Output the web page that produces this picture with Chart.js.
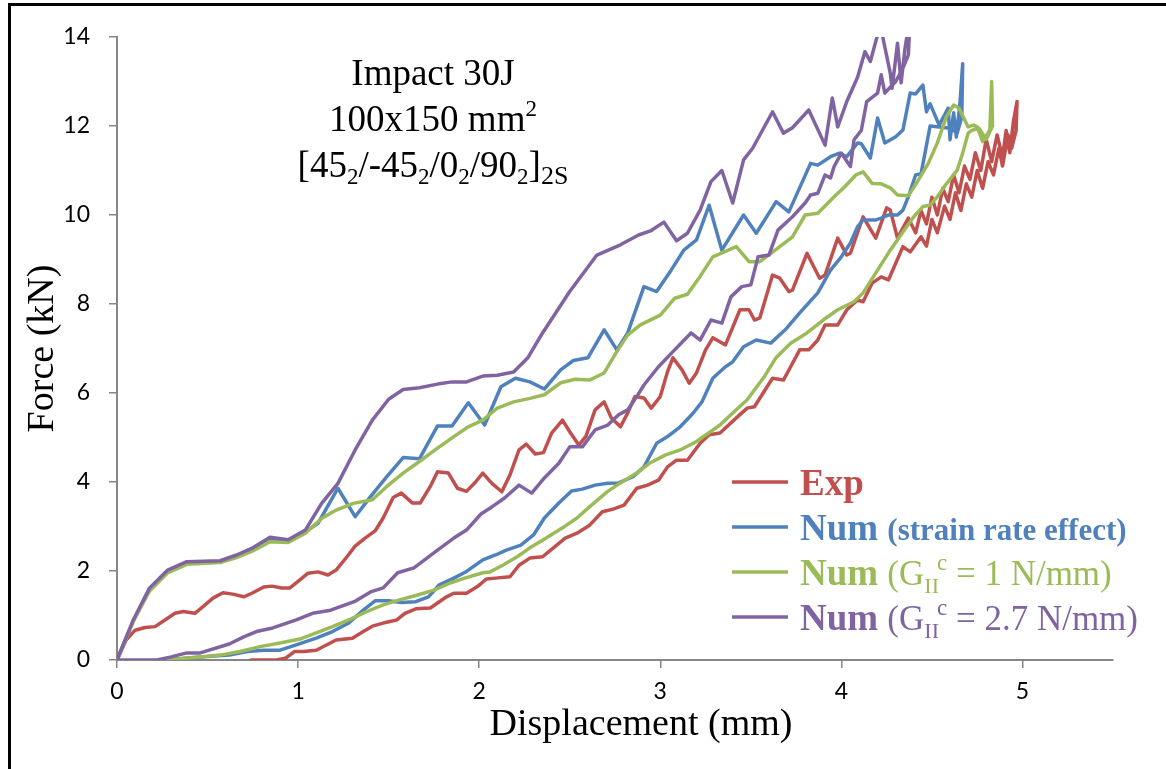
<!DOCTYPE html>
<html>
<head>
<meta charset="utf-8">
<script src="https://cdn.jsdelivr.net/npm/chart.js@4.4.0/dist/chart.umd.min.js"></script>
<style>
  html, body { margin: 0; padding: 0; background: #fff; }
  canvas { display: block; }
</style>
</head>
<body>
<canvas id="forceChart" width="1166" height="769"></canvas>
<script>
// Exp : loading then unloading branch
var expX = [0,0.05,0.10,0.155,0.21,0.265,0.32,0.365,0.43,0.475,0.53,0.585,0.64,0.70,0.745,0.81,0.855,0.91,0.955,1.01,1.055,1.11,1.165,1.21,1.27,1.315,1.37,1.425,1.47,1.525,1.57,1.63,1.675,1.73,1.77,1.83,1.88,1.93,1.98,2.02,2.07,2.125,2.17,2.22,2.26,2.31,2.355,2.40,2.46,2.50,2.55,2.59,2.64,2.69,2.73,2.78,2.82,2.86,2.91,2.95,3.0,3.04,3.07,3.12,3.16,3.20,3.25,3.29,3.36,3.44,3.49,3.52,3.55,3.62,3.66,3.71,3.73,3.81,3.88,3.91,3.98,4.03,4.05,4.12,4.19,4.25,4.27,4.31,4.37,4.41,4.44,4.47,4.50,4.53,4.56,4.59,4.62,4.65,4.68,4.71,4.74,4.77,4.80,4.83,4.86,4.89,4.91,4.93,4.95,4.97,
  4.965,4.94,4.92,4.89,4.87,4.84,4.81,4.78,4.75,4.72,4.69,4.66,4.63,4.60,4.57,4.53,4.50,4.47,4.44,4.38,4.34,4.26,4.22,4.17,4.12,4.09,4.03,3.98,3.91,3.87,3.82,3.77,3.72,3.68,3.62,3.59,3.52,3.48,3.42,3.33,3.27,3.22,3.15,3.09,3.04,2.99,2.93,2.87,2.80,2.74,2.68,2.61,2.54,2.475,2.41,2.35,2.28,2.22,2.17,2.09,2.04,1.99,1.93,1.86,1.82,1.77,1.73,1.65,1.59,1.545,1.47,1.41,1.36,1.30,1.21,1.10,1.03,0.98,0.93,0.88,0.74];
var expY = [0,0.45,0.67,0.73,0.75,0.9,1.05,1.09,1.05,1.2,1.39,1.51,1.48,1.42,1.5,1.64,1.66,1.62,1.62,1.8,1.95,1.98,1.91,2.02,2.32,2.56,2.74,2.9,3.19,3.65,3.75,3.53,3.53,3.9,4.23,4.2,3.86,3.79,4.0,4.2,3.97,3.78,4.16,4.72,4.85,4.63,4.66,5.1,5.39,5.13,4.83,5.03,5.62,5.8,5.44,5.24,5.55,5.92,5.89,5.66,5.92,6.48,6.79,6.52,6.22,6.45,6.97,7.24,7.08,7.87,7.87,7.64,7.69,8.65,8.58,8.28,8.31,9.14,8.58,8.65,9.48,9.1,9.14,9.96,9.48,10.16,10.11,9.48,9.93,9.6,10.1,9.8,10.4,10.0,10.6,10.3,10.9,10.5,11.1,10.8,11.4,11.0,11.7,11.2,11.8,11.3,11.9,11.4,12.1,12.55,
  11.9,11.5,11.8,11.1,11.5,10.9,11.2,10.6,11.0,10.4,10.7,10.1,10.5,9.9,10.2,9.6,9.9,9.3,9.51,9.17,9.29,8.54,8.61,8.47,8.05,8.09,7.87,7.53,7.53,7.19,6.97,6.97,6.59,6.29,6.33,6.14,5.69,5.66,5.44,5.1,5.06,4.87,4.49,4.49,4.34,4.04,3.93,3.86,3.48,3.39,3.33,3.03,2.85,2.74,2.52,2.32,2.29,2.13,1.87,1.84,1.82,1.65,1.5,1.5,1.42,1.28,1.17,1.15,1.05,0.9,0.83,0.76,0.64,0.49,0.45,0.22,0.19,0.19,0.04,0,0];

// Num (strain rate effect)
var rateX = [0,0.09,0.18,0.28,0.385,0.57,0.66,0.75,0.845,0.945,1.04,1.11,1.22,1.315,1.40,1.49,1.58,1.67,1.77,1.85,1.94,2.03,2.12,2.20,2.28,2.36,2.45,2.52,2.60,2.69,2.76,2.82,2.91,2.98,3.06,3.13,3.20,3.27,3.34,3.46,3.53,3.64,3.71,3.83,3.87,3.94,3.99,4.03,4.09,4.11,4.16,4.20,4.24,4.30,4.34,4.38,4.41,4.45,4.47,4.49,4.54,4.59,4.60,4.62,4.635,4.655,4.67,
  4.665,4.64,4.60,4.54,4.49,4.46,4.44,4.41,4.37,4.34,4.31,4.26,4.22,4.19,4.12,4.09,4.05,4.00,3.94,3.87,3.77,3.69,3.61,3.53,3.46,3.40,3.36,3.29,3.23,3.18,3.11,3.04,2.98,2.91,2.85,2.77,2.71,2.64,2.57,2.51,2.44,2.36,2.30,2.23,2.15,2.09,2.02,1.93,1.86,1.78,1.72,1.65,1.57,1.50,1.425,1.36,1.28,1.19,1.10,0.99,0.90,0.81,0.72,0.62,0.46,0.27];
var rateY = [0,0.88,1.6,2.0,2.19,2.21,2.34,2.5,2.72,2.67,2.88,3.07,3.86,3.22,3.67,4.12,4.55,4.52,5.26,5.26,5.78,5.28,6.14,6.33,6.25,6.09,6.52,6.73,6.79,7.42,6.97,7.35,8.39,8.28,8.76,9.21,9.44,10.22,9.21,10.0,9.59,10.3,10.07,11.16,11.12,11.31,11.39,11.31,11.62,11.6,11.28,12.18,11.62,11.76,11.91,12.74,12.72,12.92,12.32,12.5,12.02,12.4,11.69,12.3,11.75,12.52,13.4,
  12.2,11.85,11.95,11.98,12.0,11.35,10.93,10.9,10.41,10.11,10.0,10.0,9.93,9.89,9.89,9.74,9.37,9.06,8.76,8.25,7.8,7.42,7.12,7.19,7.04,6.7,6.59,6.33,5.8,5.54,5.24,5.02,4.87,4.34,4.12,3.98,3.97,3.93,3.84,3.8,3.53,3.19,2.81,2.58,2.47,2.36,2.25,1.99,1.84,1.69,1.42,1.31,1.29,1.33,1.33,1.12,0.83,0.64,0.49,0.34,0.22,0.22,0.19,0.11,0.07,0];

// Num (GIIc = 1 N/mm)
var g1X = [0,0.09,0.18,0.28,0.385,0.57,0.66,0.75,0.845,0.945,1.04,1.13,1.21,1.305,1.41,1.49,1.58,1.67,1.77,1.86,1.94,2.02,2.1,2.19,2.28,2.36,2.45,2.53,2.61,2.69,2.76,2.82,2.89,3.0,3.08,3.15,3.21,3.29,3.42,3.49,3.55,3.66,3.73,3.80,3.87,3.97,4.02,4.08,4.12,4.17,4.22,4.27,4.31,4.37,4.42,4.48,4.53,4.58,4.62,4.65,4.70,4.73,4.75,4.78,4.82,4.83,
  4.835,4.80,4.76,4.72,4.70,4.67,4.64,4.58,4.53,4.49,4.45,4.40,4.34,4.27,4.20,4.12,4.07,3.98,3.90,3.81,3.72,3.64,3.58,3.48,3.40,3.33,3.20,3.11,3.03,2.94,2.87,2.78,2.71,2.62,2.54,2.46,2.37,2.28,2.21,2.13,2.06,2.02,1.92,1.84,1.75,1.66,1.56,1.47,1.38,1.29,1.19,1.10,1.01,0.90,0.79,0.68,0.57,0.46,0.37,0.27];
var g1Y = [0,0.87,1.55,1.96,2.15,2.19,2.3,2.45,2.66,2.64,2.85,3.18,3.37,3.52,3.6,3.9,4.2,4.46,4.76,5.02,5.24,5.39,5.66,5.8,5.88,5.96,6.23,6.31,6.29,6.45,6.93,7.3,7.53,7.75,8.13,8.22,8.56,9.06,9.29,8.95,8.95,9.29,9.51,10.0,10.04,10.45,10.64,10.9,10.97,10.71,10.7,10.61,10.45,10.43,10.75,11.16,11.62,12.21,12.47,12.4,11.98,12.02,11.98,11.65,11.91,13.0,
  12.0,11.7,11.95,11.9,11.84,11.39,11.01,10.7,10.41,10.22,10.19,9.96,9.62,9.21,8.76,8.25,8.05,7.87,7.64,7.35,7.12,6.8,6.4,5.85,5.55,5.28,4.91,4.72,4.61,4.42,4.2,3.98,3.79,3.48,3.19,2.97,2.74,2.52,2.32,2.13,1.98,1.96,1.84,1.73,1.57,1.46,1.35,1.24,1.09,0.92,0.75,0.61,0.47,0.38,0.3,0.19,0.11,0.07,0.04,0];

// Num (GIIc = 2.7 N/mm)
var g27X = [0,0.09,0.18,0.28,0.385,0.57,0.66,0.75,0.845,0.945,1.04,1.13,1.22,1.315,1.41,1.50,1.58,1.67,1.77,1.85,1.93,2.02,2.1,2.19,2.27,2.35,2.50,2.65,2.78,2.88,2.95,3.02,3.09,3.15,3.22,3.28,3.34,3.40,3.46,3.51,3.62,3.68,3.73,3.82,3.91,3.95,3.98,4.03,4.09,4.13,4.16,4.20,4.22,4.23,4.27,4.28,4.31,4.33,4.35,4.38,
  4.37,4.34,4.30,4.24,4.22,4.20,4.14,4.11,4.07,4.05,4.00,3.96,3.94,3.91,3.87,3.83,3.80,3.73,3.65,3.60,3.54,3.50,3.45,3.39,3.34,3.28,3.22,3.17,3.07,2.99,2.91,2.87,2.82,2.77,2.71,2.64,2.57,2.50,2.44,2.36,2.29,2.22,2.14,2.07,2.01,1.93,1.86,1.77,1.64,1.55,1.47,1.40,1.31,1.18,1.08,0.99,0.86,0.77,0.70,0.62,0.46,0.385,0.30,0.22,0];
var g27Y = [0,0.9,1.62,2.02,2.21,2.23,2.36,2.52,2.76,2.7,2.92,3.52,3.97,4.72,5.39,5.86,6.08,6.12,6.2,6.25,6.25,6.38,6.4,6.47,6.8,7.35,8.28,9.1,9.33,9.55,9.65,9.84,9.42,9.59,10.11,10.75,11.0,10.27,11.24,11.5,12.32,11.84,11.96,12.36,11.57,12.63,11.98,12.55,13.1,13.67,13.45,14.05,14.5,13.97,13.19,12.85,13.86,12.97,13.7,14.5,
  13.6,13.3,13.0,12.74,13.15,12.74,12.55,11.9,11.69,11.09,11.39,11.09,10.83,10.9,10.49,10.45,10.27,9.96,9.66,9.1,9.06,8.43,8.39,8.16,7.57,7.64,7.19,7.35,6.93,6.59,6.18,5.92,5.62,5.51,5.28,5.17,4.79,4.79,4.42,4.09,3.75,3.93,3.64,3.44,3.28,2.92,2.74,2.47,2.07,1.96,1.62,1.53,1.31,1.12,1.05,0.9,0.72,0.64,0.52,0.36,0.16,0.16,0.07,0,0];

var xTicks = [0, 1, 2, 3, 4, 5];
var yTicks = [0, 2, 4, 6, 8, 10, 12, 14];

function toPoints(xs, ys) {
    var pts = [];
    for (let i = 0; i < xs.length; i++) {
        pts.push({x: xs[i], y: ys[i]});
    }
    return pts;
}

var RED = '#C0504D', BLUE = '#4F81BD', GREEN = '#9BBB59', PURPLE = '#8064A2';
var SERIF = '"Liberation Serif", "Times New Roman", serif';

// draws a row of text pieces (sub/superscripts, mixed weights)
function drawRich(ctx, parts, x, y, align, color) {
    let total = 0;
    parts.forEach(function(p) {
        ctx.font = (p.b ? 'bold ' : '') + p.s + 'px ' + SERIF;
        p.w = ctx.measureText(p.t).width;
        total += p.w + (p.dx || 0);
    });
    let cx = align === 'center' ? x - total / 2 : x;
    ctx.fillStyle = color;
    ctx.textBaseline = 'alphabetic';
    ctx.textAlign = 'left';
    parts.forEach(function(p) {
        ctx.font = (p.b ? 'bold ' : '') + p.s + 'px ' + SERIF;
        cx += (p.dx || 0);
        ctx.fillText(p.t, cx, y + (p.dy || 0));
        cx += p.w;
    });
}

var framePlugin = {
    id: 'frame',
    afterDraw: function(chart) {
        let ctx = chart.ctx;
        ctx.save();
        ctx.fillStyle = '#000';
        ctx.fillRect(8, 3, 1158, 3);
        ctx.fillRect(8, 3, 3, 766);
        ctx.restore();
    }
};

var notePlugin = {
    id: 'note',
    afterDraw: function(chart) {
        let ctx = chart.ctx;
        ctx.save();
        drawRich(ctx, [{t: 'Impact 30J', s: 37}], 433, 85, 'center', '#000');
        drawRich(ctx, [{t: '100x150 mm', s: 37}, {t: '2', s: 23, dy: -15}], 433, 131, 'center', '#000');
        drawRich(ctx, [
            {t: '[45', s: 37}, {t: '2', s: 23, dy: 7},
            {t: '/-45', s: 37}, {t: '2', s: 23, dy: 7},
            {t: '/0', s: 37}, {t: '2', s: 23, dy: 7},
            {t: '/90', s: 37}, {t: '2', s: 23, dy: 7},
            {t: ']', s: 37}, {t: '2S', s: 26, dy: 7}
        ], 433, 177, 'center', '#000');
        // x axis title
        drawRich(ctx, [{t: 'Displacement (mm)', s: 38}], 641, 735, 'center', '#000');
        ctx.restore();
    }
};

var legendRows = [
    {color: RED, parts: [{t: 'Exp', s: 37, b: true}]},
    {color: BLUE, parts: [{t: 'Num ', s: 37, b: true}, {t: '(strain rate effect)', s: 31, b: true}]},
    {color: GREEN, parts: [{t: 'Num ', s: 37, b: true}, {t: '(G', s: 35}, {t: 'II', s: 22, dy: 8},
        {t: 'c', s: 23, dy: -15, dx: -2}, {t: ' = 1 N/mm)', s: 35}]},
    {color: PURPLE, parts: [{t: 'Num ', s: 37, b: true}, {t: '(G', s: 35}, {t: 'II', s: 22, dy: 8},
        {t: 'c', s: 23, dy: -15, dx: -2}, {t: ' = 2.7 N/mm)', s: 35}]}
];

var legendPlugin = {
    id: 'sideLegend',
    afterDraw: function(chart) {
        let ctx = chart.ctx;
        ctx.save();
        legendRows.forEach(function(row, i) {
            let y = 482 + i * 45;
            ctx.strokeStyle = row.color;
            ctx.lineWidth = 3.5;
            ctx.beginPath();
            ctx.moveTo(732, y);
            ctx.lineTo(788, y);
            ctx.stroke();
            drawRich(ctx, row.parts, 800, y + 13, 'left', row.color);
        });
        ctx.restore();
    }
};

function lineSet(label, xs, ys, color, order) {
    return {
        label: label,
        data: toPoints(xs, ys),
        showLine: true,
        borderColor: color,
        backgroundColor: color,
        borderWidth: 3.5,
        borderJoinStyle: 'round',
        borderCapStyle: 'round',
        pointRadius: 0,
        tension: 0,
        order: order
    };
}

var ctx = document.getElementById('forceChart');
var chart = new Chart(ctx, {
    type: 'scatter',
    data: {
        datasets: [
            lineSet('Exp', expX, expY, RED, 3),
            lineSet('Num (strain rate effect)', rateX, rateY, BLUE, 2),
            lineSet('Num (GIIc = 1 N/mm)', g1X, g1Y, GREEN, 1),
            lineSet('Num (GIIc = 2.7 N/mm)', g27X, g27Y, PURPLE, 0)
        ]
    },
    options: {
        responsive: false,
        animation: false,
        layout: {
            padding: {left: 10, top: 37, right: 53, bottom: 0}
        },
        plugins: {
            legend: {display: false},
            tooltip: {enabled: false}
        },
        scales: {
            x: {
                type: 'linear',
                min: 0,
                max: 5.5,
                afterFit: function(scale) { scale.height = 109; },
                afterBuildTicks: function(scale) {
                    scale.ticks = xTicks.map(function(v) { return {value: v}; });
                },
                ticks: {
                    padding: 10,
                    color: '#000',
                    font: {family: 'Lato', size: 23},
                    callback: function(v) { return v; }
                },
                grid: {
                    drawOnChartArea: false,
                    tickLength: 8,
                    color: '#868686',
                    lineWidth: 1.5
                },
                border: {color: '#868686', width: 2}
            },
            y: {
                min: 0,
                max: 14,
                afterFit: function(scale) { scale.width = 107; },
                afterBuildTicks: function(scale) {
                    scale.ticks = yTicks.map(function(v) { return {value: v}; });
                },
                ticks: {
                    padding: 19,
                    color: '#000',
                    font: {family: 'Lato', size: 23},
                    callback: function(v) { return v; }
                },
                grid: {
                    drawOnChartArea: false,
                    tickLength: 8,
                    color: '#868686',
                    lineWidth: 1.5
                },
                border: {color: '#868686', width: 2},
                title: {
                    display: true,
                    text: 'Force (kN)',
                    color: '#000',
                    font: {family: SERIF, size: 38},
                    padding: {top: 10, bottom: 0}
                }
            }
        }
    },
    plugins: [framePlugin, notePlugin, legendPlugin]
});
</script>
</body>
</html>
